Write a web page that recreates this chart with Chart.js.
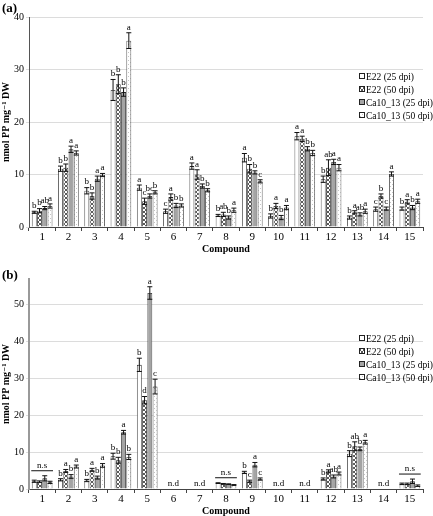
<!DOCTYPE html>
<html>
<head>
<meta charset="utf-8">
<script src="https://cdn.jsdelivr.net/npm/chart.js@4"></script>
<style>
  body { margin: 0; background: #fff; width: 433px; height: 516px; position: relative; overflow: hidden; }
  .panel { position: absolute; left: 0; width: 433px; }
  .tag { position: absolute; left: 2px; font: bold 13px 'Liberation Serif', serif; }
</style>
</head>
<body>
<div class="panel" style="top:250px;height:266px;"><canvas id="chartB" width="433" height="266"></canvas></div>
<div class="panel" style="top:0;height:254px;"><canvas id="chartA" width="433" height="254"></canvas></div>
<div class="tag" style="top:0px;">(a)</div>
<div class="tag" style="top:267px;">(b)</div>
<script>
const compounds = ['1','2','3','4','5','6','7','8','9','10','11','12','13','14','15'];
const seriesNames = ['E22 (25 dpi)', 'E22 (50 dpi)', 'Ca10_13 (25 dpi)', 'Ca10_13 (50 dpi)'];

// panel (a) means
const a_e22_25 = [2.8, 11.1, 6.9, 26.1, 7.5, 3.0, 11.6, 2.2, 13.2, 2.1, 17.3, 9.1, 1.8, 3.4, 3.5];
const a_e22_50 = [3.1, 11.3, 5.9, 27.2, 4.9, 5.7, 10.0, 2.4, 11.1, 4.0, 16.8, 11.3, 2.8, 5.9, 4.8];
const a_ca_25 = [3.6, 14.8, 9.2, 25.7, 5.9, 4.1, 7.8, 1.8, 10.4, 1.8, 14.9, 12.4, 2.4, 3.5, 3.7];
const a_ca_50 = [4.0, 14.1, 9.9, 35.5, 6.6, 4.1, 7.0, 3.2, 8.7, 3.7, 14.1, 11.3, 3.0, 10.1, 4.9];
// panel (a) errors
const a_err_e22_25 = [0.2, 0.5, 0.6, 2.0, 0.5, 0.4, 0.6, 0.2, 0.8, 0.4, 0.7, 0.6, 0.3, 0.4, 0.3];
const a_err_e22_50 = [0.4, 0.7, 0.6, 1.8, 0.6, 0.6, 0.9, 0.4, 0.8, 0.5, 0.5, 1.5, 0.3, 0.4, 0.4];
const a_err_ca_25 = [0.3, 0.6, 0.5, 0.8, 0.4, 0.4, 0.4, 0.3, 0.3, 0.4, 0.4, 0.5, 0.3, 0.3, 0.4];
const a_err_ca_50 = [0.4, 0.4, 0.3, 1.5, 0.3, 0.3, 0.3, 0.4, 0.3, 0.4, 0.5, 0.6, 0.4, 0.4, 0.4];
// panel (a) letters
const a_let_e22_25 = ['b','b','b','b','a','c','a','b','a','b','a','b','b','c','b'];
const a_let_e22_50 = ['b','b','b','b','c','a','a','ab','b','a','a','ab','a','b','a'];
const a_let_ca_25 = ['ab','a','a','b','bc','b','b','b','b','b','b','a','ab','c','b'];
const a_let_ca_50 = ['a','a','a','a','b','b','b','a','c','a','b','a','a','a','a'];
const a_notes = ['','','','','','','','','','','','','','',''];

// panel (b) means (null = not detected)
const b_e22_25 = [2.1, 2.5, 2.3, 8.9, 33.7, null, null, 1.6, 4.5, null, null, 2.7, 9.6, null, 1.4];
const b_e22_50 = [2.0, 4.9, 5.2, 7.8, 24.1, null, null, 1.4, 2.1, null, null, 4.8, 11.6, null, 1.4];
const b_ca_25 = [2.9, 3.4, 3.1, 15.4, 53.2, null, null, 1.3, 6.6, null, null, 3.4, 10.9, null, 2.1];
const b_ca_50 = [1.8, 6.1, 6.4, 8.7, 27.8, null, null, 1.1, 2.7, null, null, 4.2, 12.7, null, 0.9];
// panel (b) errors
const b_err_e22_25 = [0.3, 0.3, 0.3, 0.8, 1.8, 0, 0, 0.1, 0.3, 0, 0, 0.3, 0.8, 0, 0.2];
const b_err_e22_50 = [0.2, 0.4, 0.4, 0.8, 1.0, 0, 0, 0.1, 0.3, 0, 0, 0.4, 1.2, 0, 0.2];
const b_err_ca_25 = [0.7, 0.5, 0.4, 0.5, 1.7, 0, 0, 0.1, 0.6, 0, 0, 0.4, 0.5, 0, 0.6];
const b_err_ca_50 = [0.3, 0.4, 0.5, 0.7, 2.0, 0, 0, 0.1, 0.3, 0, 0, 0.4, 0.5, 0, 0.2];
// panel (b) letters
const b_let_e22_25 = ['','b','b','b','b','','','','b','','','b','b','',''];
const b_let_e22_50 = ['','a','a','b','d','','','','c','','','a','ab','',''];
const b_let_ca_25 = ['','b','b','a','a','','','','a','','','ab','b','',''];
const b_let_ca_50 = ['','a','a','b','c','','','','c','','','a','a','',''];
const b_notes = ['n.s','','','','','n.d','n.d','n.s','','n.d','n.d','','','n.d','n.s'];

const serif = "'Liberation Serif', 'DejaVu Serif', serif";

function makePattern(kind) {
    const c = document.createElement('canvas');
    c.width = 4; c.height = 4;
    const g = c.getContext('2d');
    g.fillStyle = '#fff';
    g.fillRect(0, 0, 4, 4);
    if (kind == 'cross') {
        g.fillStyle = '#5a5a5a';
        for (let i = 0; i < 4; i++) {
            g.fillRect(i, i, 1, 1);
            g.fillRect(3 - i, i, 1, 1);
        }
    } else {
        g.fillStyle = '#c4c4c4';
        g.fillRect(0, 0, 1, 1);
        g.fillRect(2, 2, 1, 1);
    }
    return g.createPattern(c, 'repeat');
}

const fills = ['#ffffff', makePattern('cross'), '#a4a4a4', makePattern('dots')];

// error bars, letters, n.s / n.d notes and the legend
const extrasPlugin = {
    id: 'extras',
    afterDatasetsDraw(chart, args, opts) {
        const ctx = chart.ctx;
        const y = chart.scales.y;
        const x = chart.scales.x;
        ctx.save();
        ctx.strokeStyle = '#111';
        ctx.lineWidth = 1;
        ctx.fillStyle = '#000';
        ctx.font = '9px ' + serif;
        ctx.textAlign = 'center';
        ctx.textBaseline = 'bottom';
        const groupTop = [];
        chart.data.datasets.forEach((ds, di) => {
            const meta = chart.getDatasetMeta(di);
            meta.data.forEach((bar, i) => {
                const v = ds.data[i];
                if (v == null) return;
                const e = opts.errors[di][i];
                const yt = y.getPixelForValue(v + e);
                const yb = y.getPixelForValue(v - e);
                if (e > 0) {
                    ctx.beginPath();
                    ctx.moveTo(bar.x, yt); ctx.lineTo(bar.x, yb);
                    ctx.moveTo(bar.x - 2.5, yt); ctx.lineTo(bar.x + 2.5, yt);
                    ctx.moveTo(bar.x - 2.5, yb); ctx.lineTo(bar.x + 2.5, yb);
                    ctx.stroke();
                }
                const lt = opts.letters[di][i];
                if (lt) ctx.fillText(lt, bar.x, yt - 1);
                groupTop[i] = Math.min(groupTop[i] == null ? 1e9 : groupTop[i], yt);
            });
        });
        opts.notes.forEach((n, i) => {
            const cx = x.getPixelForValue(i);
            if (n == 'n.d') {
                ctx.fillText(n, cx, y.getPixelForValue(0) - 1);
            } else if (n == 'n.s') {
                const first = chart.getDatasetMeta(0).data[i];
                const last = chart.getDatasetMeta(3).data[i];
                const ly = groupTop[i] - 5;
                ctx.beginPath();
                ctx.moveTo(first.x - 3, ly); ctx.lineTo(last.x + 3, ly);
                ctx.stroke();
                ctx.fillText(n, cx, ly - 1);
            }
        });
        // legend
        const lx = opts.legendX, ly0 = opts.legendY;
        ctx.textAlign = 'left';
        ctx.textBaseline = 'middle';
        ctx.font = '9.5px ' + serif;
        seriesNames.forEach((name, k) => {
            const yy = ly0 + k * 13;
            ctx.fillStyle = fills[k];
            ctx.fillRect(lx, yy - 2.5, 5, 5);
            ctx.strokeStyle = '#222';
            ctx.strokeRect(lx + 0.5, yy - 2.5, 5, 5);
            ctx.fillStyle = '#000';
            ctx.fillText(name, lx + 7, yy + 1);
        });
        ctx.restore();
    }
};

function makeChart(id, series, errors, letters, notes, yMax, legendY, padTop, axisColor, axisWidth) {
    return new Chart(document.getElementById(id), {
        type: 'bar',
        data: {
            labels: compounds,
            datasets: series.map((d, k) => ({
                label: seriesNames[k],
                data: d,
                backgroundColor: fills[k],
                borderColor: '#222',
                borderWidth: 0.8,
                categoryPercentage: 0.8,
                barPercentage: 0.92
            }))
        },
        options: {
            responsive: false,
            animation: false,
            layout: { padding: { top: padTop, right: 10, left: 0, bottom: 0 } },
            plugins: {
                legend: { display: false },
                tooltip: { enabled: false },
                extras: { errors: errors, letters: letters, notes: notes, legendX: 359, legendY: legendY }
            },
            scales: {
                x: {
                    grid: { display: true, drawOnChartArea: false, color: '#444', tickLength: 4 },
                    border: { color: '#444', width: 1 },
                    ticks: { color: '#000', font: { family: serif, size: 11, lineHeight: 1 }, padding: 1 },
                    title: { display: true, text: 'Compound', color: '#000', font: { family: serif, size: 10, weight: 'bold', lineHeight: 1 }, padding: 0 }
                },
                y: {
                    min: 0,
                    max: yMax,
                    afterBuildTicks: (axis) => { axis.ticks = axis.ticks.filter(t => t.value % 10 == 0); },
                    ticks: { stepSize: 10, color: '#000', font: { family: serif, size: 10 }, padding: 2 },
                    grid: { color: '#dcdcdc', tickLength: 3 },
                    border: { color: axisColor, width: axisWidth },
                    title: { display: true, text: 'nmol PP mg⁻¹ DW', color: '#000', font: { family: serif, size: 10, weight: 'bold' }, padding: 0 }
                }
            }
        },
        plugins: [extrasPlugin]
    });
}

makeChart('chartA',
    [a_e22_25, a_e22_50, a_ca_25, a_ca_50],
    [a_err_e22_25, a_err_e22_50, a_err_ca_25, a_err_ca_50],
    [a_let_e22_25, a_let_e22_50, a_let_ca_25, a_let_ca_50],
    a_notes, 40, 76, 17, '#555', 1);

makeChart('chartB',
    [b_e22_25, b_e22_50, b_ca_25, b_ca_50],
    [b_err_e22_25, b_err_e22_50, b_err_ca_25, b_err_ca_50],
    [b_let_e22_25, b_let_e22_50, b_let_ca_25, b_let_ca_50],
    b_notes, 57, 88, 29, '#999', 2);
</script>
</body>
</html>
